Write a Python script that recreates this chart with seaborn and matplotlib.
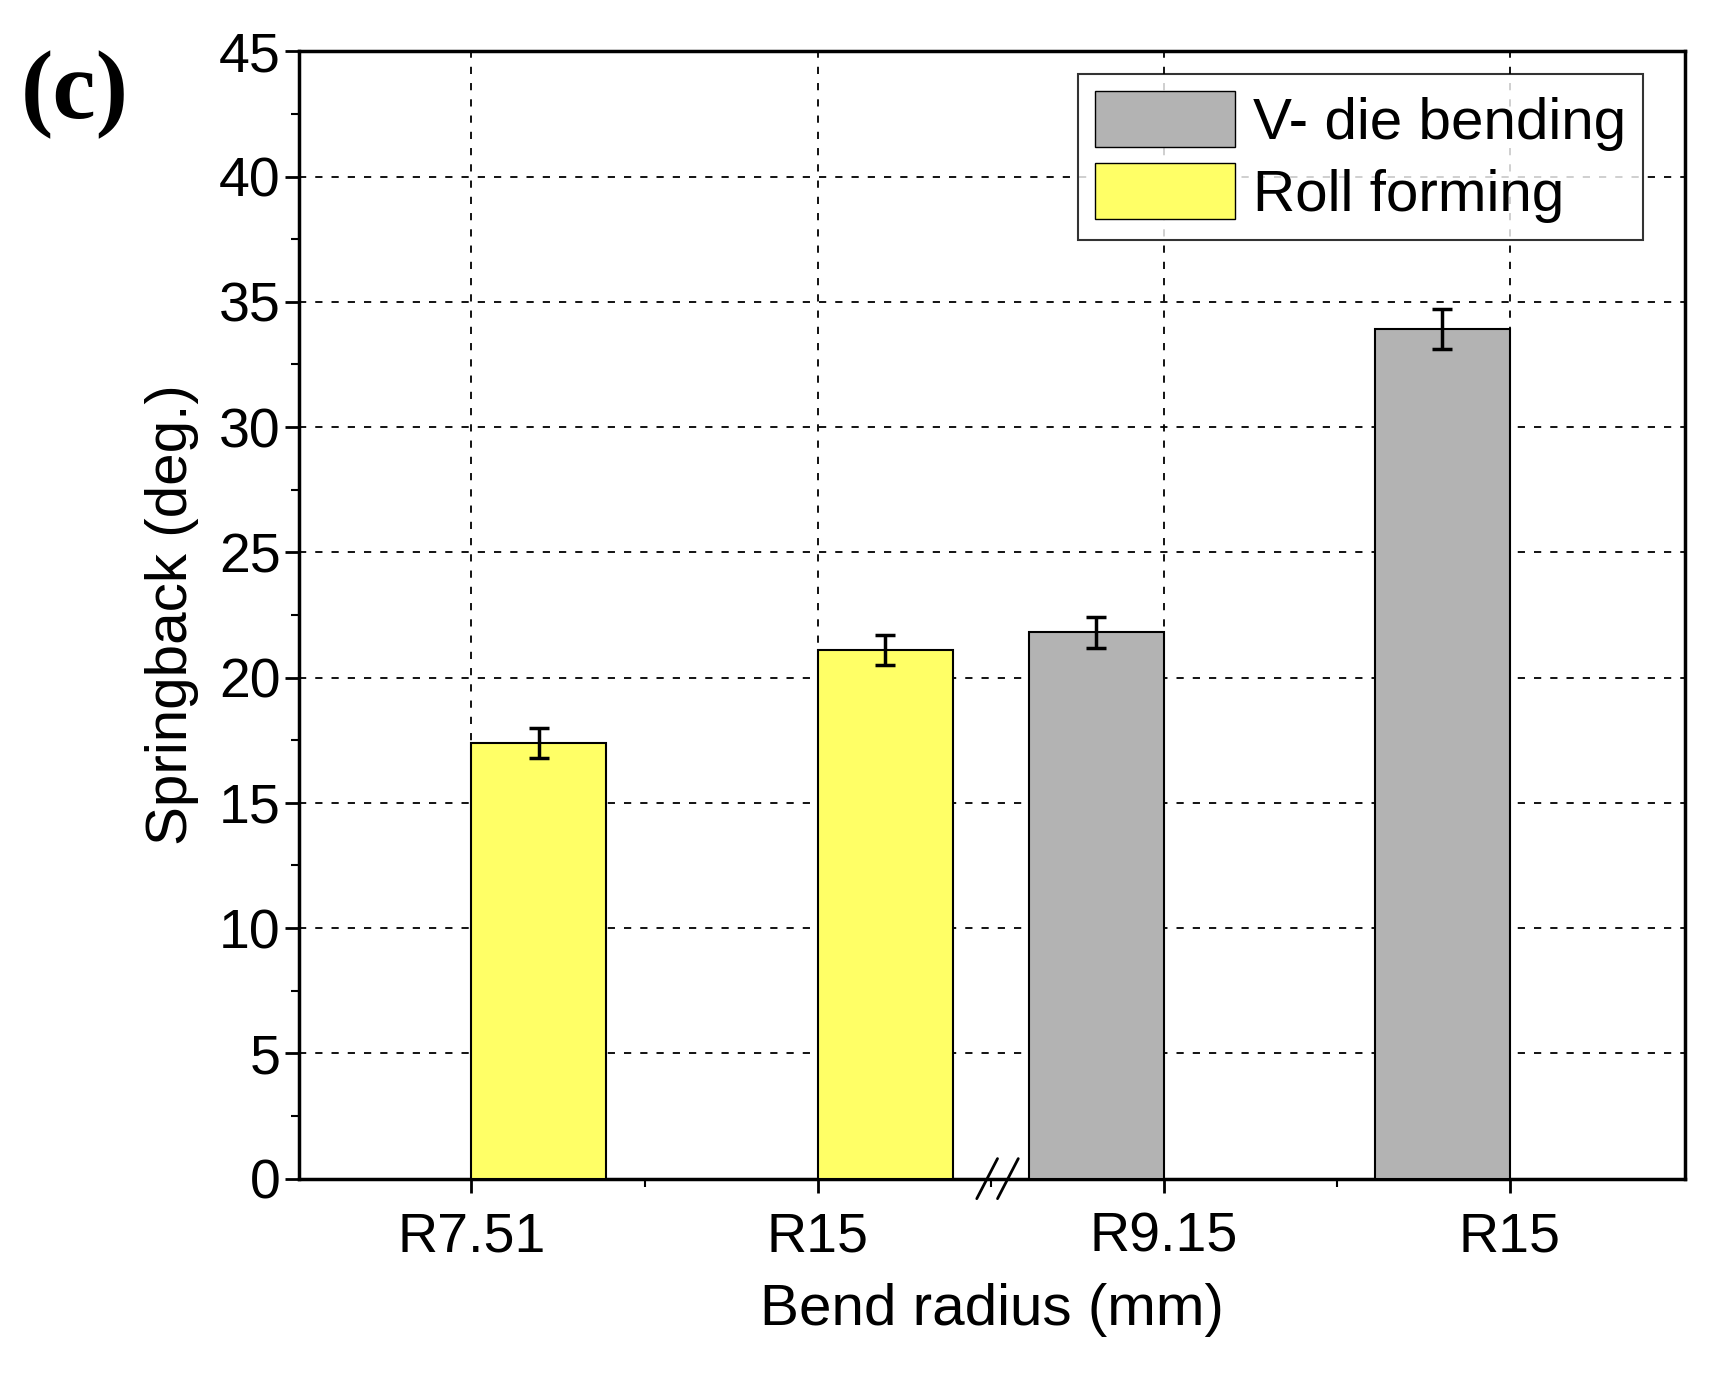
import matplotlib
matplotlib.use("Agg")
import matplotlib.pyplot as plt
from matplotlib.patches import Patch
import seaborn as sns
import numpy as np

# data
labels = ["R7.51", "R15", "R9.15", "R15"]
positions = [1, 2, 3, 4]
springback = [17.4, 21.1, 21.8, 33.9]
errors = [0.6, 0.6, 0.6, 0.8]
process = ["Roll forming", "Roll forming", "V- die bending", "V- die bending"]

sns.set_style("ticks")
plt.rcParams['font.family'] = ['Liberation Sans', 'DejaVu Sans']
plt.rcParams['text.color'] = 'black'
plt.rcParams['axes.labelcolor'] = 'black'
plt.rcParams['xtick.color'] = 'black'
plt.rcParams['ytick.color'] = 'black'

fig = plt.figure(figsize=(17.21, 13.85), dpi=100)
ax = fig.add_axes([0.174, 0.149, 0.805, 0.814])

colors = {"Roll forming": "#ffff66", "V- die bending": "#b3b3b3"}
w = 0.39
for x, y, e, p in zip(positions, springback, errors, process):
    # roll forming bars sit right of the tick, V-die bars left of it
    width = w if p == "Roll forming" else -w
    ax.bar(x, y, width=width, align="edge", color=colors[p],
           edgecolor="black", linewidth=1.5, zorder=3)
    ax.errorbar(x + width / 2, y, yerr=e, color="black", capsize=7,
                capthick=2.5, elinewidth=2.5, zorder=4)

ax.set_xlim(0.503, 4.506)
ax.set_ylim(0, 45)
ax.set_xticks(positions)
ax.set_xticklabels(labels)
ax.set_xticks([1.5, 2.5, 3.5], minor=True)
ax.set_yticks(np.arange(0, 46, 5))
ax.set_yticks(np.arange(2.5, 45, 5), minor=True)
ax.grid(True, which="major", linestyle=(0, (4, 5)), color="black", linewidth=1.3, zorder=0)
for s in ax.spines.values():
    s.set_linewidth(2.5)
    s.set_color("black")
ax.tick_params(which="major", length=10, width=2, labelsize=40, direction="out")
ax.tick_params(which="minor", length=6, width=1.5, direction="out")
ax.tick_params(axis="x", pad=14)

ax.set_xlabel("Bend radius (mm)", fontsize=42, labelpad=14)
ax.set_ylabel("Springback (deg.)", fontsize=42, labelpad=14)

# axis break marks
for dx in (-0.04, 0.02):
    ax.plot([2.5 + dx, 2.56 + dx], [-0.8, 0.8], color="black", lw=2,
            clip_on=False, zorder=5)

handles = [Patch(facecolor=colors["V- die bending"], edgecolor="black", label="V- die bending"),
           Patch(facecolor=colors["Roll forming"], edgecolor="black", label="Roll forming")]
leg = ax.legend(handles=handles, loc="upper right", fontsize=42, frameon=True,
                fancybox=False, edgecolor="black", handlelength=2.4, handleheight=1.1,
                handletextpad=0.3, labelspacing=0.2, bbox_to_anchor=(0.97, 0.98),
                borderpad=0.3, borderaxespad=0)
leg.get_frame().set_linewidth(1.5)

fig.text(0.012, 0.915, "(c)", fontsize=70, fontweight="bold",
         family=["Liberation Serif", "DejaVu Serif"])

fig.savefig("out.png", dpi=100)
